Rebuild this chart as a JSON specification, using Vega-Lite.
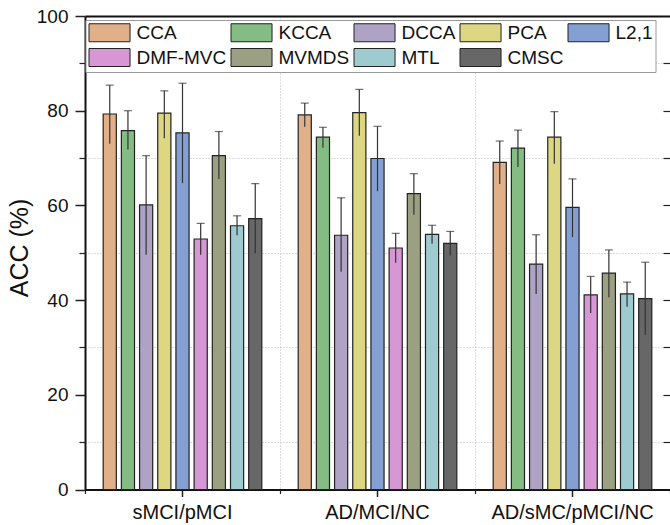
{
  "$schema": "https://vega.github.io/schema/vega-lite/v6.json",
  "width": 585,
  "height": 473.5,
  "autosize": {"type": "none"},
  "padding": {"left": 85, "top": 16, "right": 0, "bottom": 35.5},
  "background": "white",
  "config": {
    "view": {"stroke": null},
    "font": "Liberation Sans",
    "axis": {"labelFont": "Liberation Sans", "titleFont": "Liberation Sans", "labelColor": "#111", "titleColor": "#111", "tickColor": "#222", "domainColor": "#111"}
  },
  "data": {
    "values": [
      {"group": "sMCI/pMCI", "method": "CCA", "acc": 79.3, "lo": 73.0, "hi": 85.4},
      {"group": "sMCI/pMCI", "method": "KCCA", "acc": 75.8, "lo": 71.8, "hi": 80.0},
      {"group": "sMCI/pMCI", "method": "DCCA", "acc": 60.1, "lo": 49.6, "hi": 70.5},
      {"group": "sMCI/pMCI", "method": "PCA", "acc": 79.5, "lo": 74.2, "hi": 84.2},
      {"group": "sMCI/pMCI", "method": "L2,1", "acc": 75.3, "lo": 64.7, "hi": 85.8},
      {"group": "sMCI/pMCI", "method": "DMF-MVC", "acc": 52.9, "lo": 49.6, "hi": 56.2},
      {"group": "sMCI/pMCI", "method": "MVMDS", "acc": 70.5, "lo": 65.6, "hi": 75.6},
      {"group": "sMCI/pMCI", "method": "MTL", "acc": 55.7, "lo": 53.7, "hi": 57.8},
      {"group": "sMCI/pMCI", "method": "CMSC", "acc": 57.2, "lo": 49.9, "hi": 64.6},
      {"group": "AD/MCI/NC", "method": "CCA", "acc": 79.1, "lo": 76.6, "hi": 81.6},
      {"group": "AD/MCI/NC", "method": "KCCA", "acc": 74.4, "lo": 72.2, "hi": 76.5},
      {"group": "AD/MCI/NC", "method": "DCCA", "acc": 53.7, "lo": 46.0, "hi": 61.6},
      {"group": "AD/MCI/NC", "method": "PCA", "acc": 79.6, "lo": 74.7, "hi": 84.5},
      {"group": "AD/MCI/NC", "method": "L2,1", "acc": 69.9, "lo": 63.0, "hi": 76.7},
      {"group": "AD/MCI/NC", "method": "DMF-MVC", "acc": 51.0, "lo": 47.9, "hi": 54.1},
      {"group": "AD/MCI/NC", "method": "MVMDS", "acc": 62.5, "lo": 58.0, "hi": 66.7},
      {"group": "AD/MCI/NC", "method": "MTL", "acc": 53.9, "lo": 51.9, "hi": 55.8},
      {"group": "AD/MCI/NC", "method": "CMSC", "acc": 52.0, "lo": 49.4, "hi": 54.5},
      {"group": "AD/sMC/pMCI/NC", "method": "CCA", "acc": 69.1, "lo": 64.5, "hi": 73.6},
      {"group": "AD/sMC/pMCI/NC", "method": "KCCA", "acc": 72.1, "lo": 68.1, "hi": 75.9},
      {"group": "AD/sMC/pMCI/NC", "method": "DCCA", "acc": 47.6, "lo": 41.3, "hi": 53.8},
      {"group": "AD/sMC/pMCI/NC", "method": "PCA", "acc": 74.4, "lo": 68.8, "hi": 79.8},
      {"group": "AD/sMC/pMCI/NC", "method": "L2,1", "acc": 59.6, "lo": 53.3, "hi": 65.6},
      {"group": "AD/sMC/pMCI/NC", "method": "DMF-MVC", "acc": 41.1, "lo": 37.3, "hi": 45.0},
      {"group": "AD/sMC/pMCI/NC", "method": "MVMDS", "acc": 45.7, "lo": 40.6, "hi": 50.6},
      {"group": "AD/sMC/pMCI/NC", "method": "MTL", "acc": 41.3, "lo": 38.6, "hi": 43.8},
      {"group": "AD/sMC/pMCI/NC", "method": "CMSC", "acc": 40.3, "lo": 32.7, "hi": 48.0}
    ]
  },
  "encoding": {
    "xOffset": {
      "field": "method", "type": "nominal",
      "sort": ["CCA", "KCCA", "DCCA", "PCA", "L2,1", "DMF-MVC", "MVMDS", "MTL", "CMSC"],
      "scale": {"paddingInner": 0.2778, "paddingOuter": 1.0556}
    }
  },
  "layer": [
    {
      "mark": {"type": "bar", "stroke": "#222", "strokeWidth": 1.2},
      "encoding": {
        "x": {
          "field": "group", "type": "nominal",
          "sort": ["sMCI/pMCI", "AD/MCI/NC", "AD/sMC/pMCI/NC"],
          "scale": {"paddingInner": 0, "paddingOuter": 0},
          "axis": {"orient": "bottom", "title": null, "labelAngle": 0, "labelFontSize": 20, "labelPadding": 6, "tickSize": 7, "tickWidth": 1.5, "domainWidth": 2, "grid": false}
        },
        "y": {
          "field": "acc", "type": "quantitative",
          "scale": {"domain": [0, 100], "nice": false, "zero": true},
          "axis": {"orient": "left", "title": "ACC (%)", "titleFontSize": 25, "titleFontWeight": "normal", "titlePadding": 4, "titleY": 231.5, "values": [0, 20, 40, 60, 80, 100], "labelFontSize": 19, "labelPadding": 7, "tickSize": 10, "tickWidth": 1.5, "domainWidth": 2, "grid": false}
        },
        "color": {
          "field": "method", "type": "nominal",
          "sort": ["CCA", "KCCA", "DCCA", "PCA", "L2,1", "DMF-MVC", "MVMDS", "MTL", "CMSC"],
          "scale": {"range": ["#E2B088", "#84BC83", "#AEA2C5", "#DDD784", "#84A0D2", "#D797D5", "#9AA081", "#9ECBD0", "#676767"]},
          "legend": {
            "orient": "none", "legendX": 0.5, "legendY": 4, "direction": "horizontal", "columns": 5, "title": null,
            "fillColor": "white", "strokeColor": "#999", "padding": 3,
            "symbolType": "M-1,-1H3.56V1H-1Z", "symbolSize": 324, "symbolStrokeColor": "#222", "symbolStrokeWidth": 1, "symbolOpacity": 1,
            "labelFont": "Liberation Sans", "labelFontSize": 19, "labelColor": "#111", "labelOffset": 29, "labelLimit": 200,
            "rowPadding": 2, "columnPadding": 2, "gridAlign": "each"
          }
        }
      }
    },
    {
      "mark": {"type": "rule", "color": "#333", "strokeWidth": 1.2},
      "encoding": {
        "x": {
          "field": "group", "type": "nominal",
          "sort": ["sMCI/pMCI", "AD/MCI/NC", "AD/sMC/pMCI/NC"],
          "scale": {"paddingInner": 0, "paddingOuter": 0},
          "axis": {"orient": "bottom", "title": null, "labels": false, "domain": false, "tickBand": "extent", "tickSize": 4, "tickWidth": 1.2, "grid": true, "gridColor": "#bbb", "gridDash": [1, 2], "gridWidth": 1}
        },
        "y": {
          "field": "lo", "type": "quantitative",
          "scale": {"domain": [0, 100], "nice": false, "zero": true},
          "axis": {"orient": "left", "title": null, "labels": false, "domain": false, "values": [10, 30, 50, 70, 90], "tickSize": 6, "tickWidth": 1.2, "grid": true, "gridColor": "#bbb", "gridDash": [1, 2], "gridWidth": 1}
        },
        "y2": {"field": "hi"}
      }
    },
    {
      "mark": {"type": "tick", "orient": "horizontal", "color": "#333", "size": 8, "thickness": 1.2},
      "encoding": {
        "x": {
          "field": "group", "type": "nominal",
          "sort": ["sMCI/pMCI", "AD/MCI/NC", "AD/sMC/pMCI/NC"],
          "scale": {"paddingInner": 0, "paddingOuter": 0},
          "axis": {"orient": "top", "title": null, "labels": false, "ticks": false, "domain": true, "domainWidth": 2, "grid": false}
        },
        "y": {
          "field": "hi", "type": "quantitative",
          "scale": {"domain": [0, 100], "nice": false, "zero": true},
          "axis": {"orient": "right", "title": null, "labels": false, "domain": false, "values": [10, 20, 30, 40, 50, 60, 70, 80, 90], "tickSize": -7, "tickWidth": 1.2, "grid": false}
        }
      }
    }
  ],
  "resolve": {"axis": {"x": "independent", "y": "independent"}}
}
